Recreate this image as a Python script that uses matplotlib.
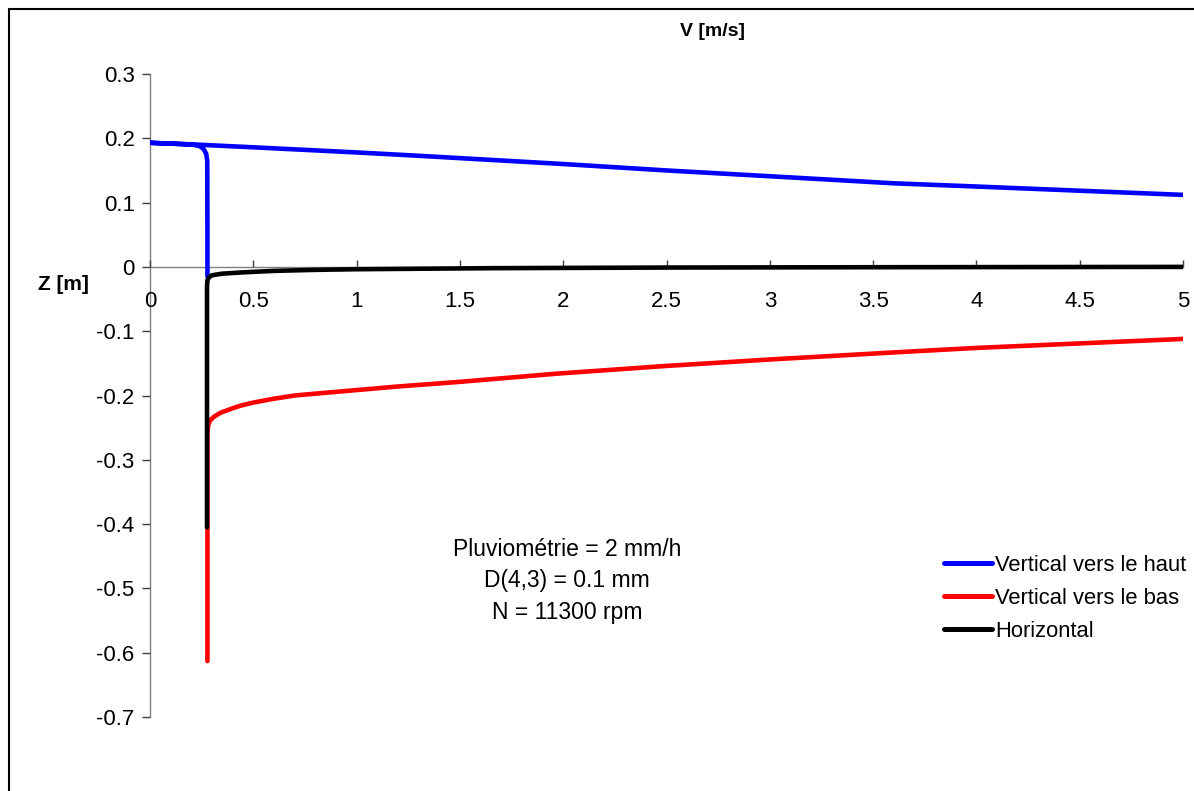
import matplotlib
matplotlib.use("Agg")
import matplotlib.pyplot as plt
from matplotlib.patches import Rectangle
from matplotlib.ticker import FuncFormatter

plt.rcParams['font.family'] = ['Liberation Sans', 'DejaVu Sans']
plt.rcParams['axes.unicode_minus'] = False

# ---- data ----
blue_v = [5.0, 4.0, 3.6, 3.0, 2.5, 2.0, 1.29, 1.0, 0.5, 0.25, 0.0,
          0.2, 0.24, 0.26, 0.272, 0.277, 0.278, 0.278]
blue_z = [0.112, 0.125, 0.130, 0.141, 0.150, 0.160, 0.173, 0.178, 0.186, 0.1898, 0.193,
          0.1905, 0.188, 0.183, 0.176, 0.165, 0.05, -0.015]

red_v = [0.278, 0.278, 0.282, 0.29, 0.31, 0.34, 0.39, 0.436, 0.5, 0.6, 0.7, 0.84,
         1.2, 1.49, 1.97, 2.5, 3.0, 3.6, 4.0, 5.0]
red_z = [-0.613, -0.258, -0.246, -0.239, -0.233, -0.227, -0.221, -0.216, -0.211,
         -0.205, -0.200, -0.196, -0.186, -0.179, -0.166, -0.154, -0.144, -0.133,
         -0.126, -0.112]

black_v = [0.276, 0.276, 0.276, 0.278, 0.285, 0.30, 0.35, 0.45, 0.6, 0.8, 1.0,
           1.65, 2.5, 3.5, 5.0]
black_z = [-0.405, -0.2, -0.03, -0.021, -0.016, -0.013, -0.0105, -0.0085, -0.0062,
           -0.0046, -0.0036, -0.002, -0.001, -0.0005, 0.0]

series_labels = ["Vertical vers le haut", "Vertical vers le bas", "Horizontal"]
series_colors = ["#0000FF", "#FF0000", "#000000"]

x_ticks = [0, 0.5, 1, 1.5, 2, 2.5, 3, 3.5, 4, 4.5, 5]
y_ticks = [-0.7, -0.6, -0.5, -0.4, -0.3, -0.2, -0.1, 0, 0.1, 0.2, 0.3]

annotation_lines = ["Pluviométrie = 2 mm/h", "D(4,3) = 0.1 mm", "N = 11300 rpm"]

# ---- figure ----
W, H = 1194, 791
fig = plt.figure(figsize=(W / 100, H / 100), dpi=100)
ax = fig.add_axes([150 / W, 1 - 717 / H, (1183 - 150) / W, (717 - 74) / H])

lw = 3.3
for v, z, c, lab in zip([blue_v, red_v, black_v], [blue_z, red_z, black_z],
                        series_colors, series_labels):
    ax.plot(v, z, color=c, lw=lw, label=lab, solid_capstyle='round',
            solid_joinstyle='round')

ax.set_xlim(0, 5)
ax.set_ylim(-0.7, 0.3)
ax.set_xticks(x_ticks)
ax.set_yticks(y_ticks)


def fmt(val, pos):
    s = ('%.1f' % val)
    if s.endswith('.0'):
        s = s[:-2]
    if s == '-0':
        s = '0'
    return s


ax.xaxis.set_major_formatter(FuncFormatter(fmt))
ax.yaxis.set_major_formatter(FuncFormatter(fmt))

for side in ['top', 'right']:
    ax.spines[side].set_visible(False)
ax.spines['bottom'].set_position(('data', 0))
for side in ['left', 'bottom']:
    ax.spines[side].set_color('#808080')
    ax.spines[side].set_linewidth(1.0)
    ax.spines[side].set_zorder(0.5)

ax.tick_params(axis='x', direction='in', length=5, width=1, color='#404040',
               labelsize=16, pad=17.5)
ax.tick_params(axis='y', direction='out', length=5.5, width=1, color='#404040',
               labelsize=16, pad=5.5)

# axis titles
fig.text(712 / W, 1 - 31 / H, "V [m/s]", ha='center', va='center',
         fontsize=14, fontweight='bold')
fig.text(63 / W, 1 - 284 / H, "Z [m]", ha='center', va='center',
         fontsize=15, fontweight='bold')

# annotation
for i, line in enumerate(annotation_lines):
    fig.text(567 / W, 1 - (549 + 32 * i) / H, line, ha='center', va='center',
             fontsize=16.5)

# legend
leg = fig.legend(loc='upper left', bbox_to_anchor=(944 / W, 1 - 555 / H),
                 bbox_transform=fig.transFigure, frameon=False, fontsize=15.8,
                 handlelength=2.2, handletextpad=0.12, labelspacing=0.55,
                 borderpad=0, borderaxespad=0)
for lh in leg.get_lines():
    lh.set_linewidth(3.6)

# outer border
fig.patches.append(Rectangle((8.5 / W, -0.1), 1.2, 1 - 9.5 / H + 0.1,
                             transform=fig.transFigure, fill=False,
                             ec='#000000', lw=1.5, clip_on=False))

fig.savefig("out.png", dpi=100)
